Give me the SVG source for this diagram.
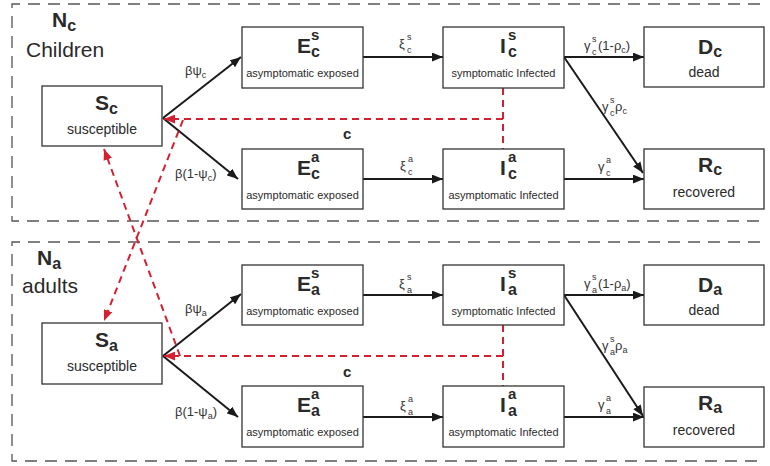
<svg xmlns="http://www.w3.org/2000/svg" width="770" height="466" viewBox="0 0 770 466">
<style>
text{font-family:"Liberation Sans",Arial,sans-serif;fill:#2a2a2a}
.box{fill:#fff;stroke:#333;stroke-width:1.3}
.grp{fill:none;stroke:#555;stroke-width:1.3;stroke-dasharray:12 8}
.t{font-size:21px;font-weight:bold}
.sb{font-size:16px;font-weight:bold}
.sp{font-size:15px;font-weight:bold}
.st{font-size:11px;text-anchor:middle}
.st2{font-size:14px;text-anchor:middle}
.lb{font-size:13px;fill:#333}
.ls{font-size:9px;fill:#333}
.ar{stroke:#1a1a1a;stroke-width:2;fill:none;marker-end:url(#ah)}
.rd{stroke:#d42030;stroke-width:2;fill:none;stroke-dasharray:7 5}
.rda{stroke:#d42030;stroke-width:2;fill:none;stroke-dasharray:7 5;marker-end:url(#rh)}
.gt{font-size:21px}
.c{font-size:15px;font-weight:bold}
</style>
<defs>
<marker id="ah" viewBox="0 0 10 8" refX="10" refY="4" markerWidth="11" markerHeight="9" markerUnits="userSpaceOnUse" orient="auto"><path d="M0,0 L10,4 L0,8 Z" fill="#1a1a1a"/></marker>
<marker id="rh" viewBox="0 0 10 8" refX="10" refY="4" markerWidth="11" markerHeight="9" markerUnits="userSpaceOnUse" orient="auto"><path d="M0,0 L10,4 L0,8 Z" fill="#d42030"/></marker>
</defs>

<g id="group-children">
<path class="grp" d="M760,4 H12 V221 H760"/>
<text x="52" y="27" class="t">N<tspan class="sb" dy="4">c</tspan></text>
<text x="26" y="57" class="gt">Children</text>
</g>
<g id="group-adults">
<path class="grp" d="M760,242 H12 V461 H760"/>
<text x="37" y="265" class="t">N<tspan class="sb" dy="4">a</tspan></text>
<text x="22" y="293" class="gt">adults</text>
</g>

<g id="connectors">
<path class="ar" d="M163,118 L241,57"/>
<path class="ar" d="M163,118 L238,179"/>
<path class="ar" d="M363,57 L443,57"/>
<path class="ar" d="M363,179 L443,179"/>
<path class="ar" d="M564,57 L644,57"/>
<path class="ar" d="M564,57 L643,173"/>
<path class="ar" d="M564,179 L644,179"/>
<path class="ar" d="M163,356 L241,294"/>
<path class="ar" d="M163,356 L238,417"/>
<path class="ar" d="M363,295 L443,295"/>
<path class="ar" d="M363,417 L443,417"/>
<path class="ar" d="M564,295 L644,295"/>
<path class="ar" d="M564,295 L643,416"/>
<path class="ar" d="M564,417 L644,417"/>
<path class="rd" d="M503,88 V149"/>
<path class="rda" d="M503,119 H164"/>
<path class="rda" d="M183,120 L104,321"/>
<path class="rd" d="M503,325 V386"/>
<path class="rda" d="M503,356 H164"/>
<path class="rda" d="M180,356 L104,149"/>
<text x="185" y="75" class="lb">βψ<tspan class="ls" dy="3">c</tspan></text>
<text x="175" y="178" class="lb">β(1-ψ<tspan class="ls" dy="3">c</tspan><tspan dy="-3">)</tspan></text>
<text x="399" y="48" class="lb">ξ</text><text x="407" y="40" class="ls">s</text><text x="407" y="53" class="ls">c</text>
<text x="400" y="170" class="lb">ξ</text><text x="408" y="162" class="ls">a</text><text x="408" y="175" class="ls">c</text>
<text x="584" y="50" class="lb">γ</text><text x="592" y="42" class="ls">s</text><text x="592" y="55" class="ls">c</text>
<text x="598" y="50" class="lb">(1-ρ<tspan class="ls" dy="3">c</tspan><tspan dy="-3">)</tspan></text>
<text x="602" y="111" class="lb">γ</text><text x="610" y="103" class="ls">s</text><text x="610" y="116" class="ls">c</text><text x="615" y="111" class="lb">ρ<tspan class="ls" dy="3">c</tspan></text>
<text x="598" y="171" class="lb">γ</text><text x="606" y="163" class="ls">a</text><text x="606" y="176" class="ls">c</text>
<text x="343" y="139" class="c">c</text>
<text x="185" y="313" class="lb">βψ<tspan class="ls" dy="3">a</tspan></text>
<text x="175" y="416" class="lb">β(1-ψ<tspan class="ls" dy="3">a</tspan><tspan dy="-3">)</tspan></text>
<text x="399" y="288" class="lb">ξ</text><text x="407" y="280" class="ls">s</text><text x="407" y="293" class="ls">a</text>
<text x="400" y="410" class="lb">ξ</text><text x="408" y="402" class="ls">a</text><text x="408" y="415" class="ls">a</text>
<text x="584" y="288" class="lb">γ</text><text x="592" y="280" class="ls">s</text><text x="592" y="293" class="ls">a</text>
<text x="598" y="288" class="lb">(1-ρ<tspan class="ls" dy="3">a</tspan><tspan dy="-3">)</tspan></text>
<text x="602" y="350" class="lb">γ</text><text x="610" y="342" class="ls">s</text><text x="610" y="355" class="ls">a</text><text x="615" y="350" class="lb">ρ<tspan class="ls" dy="3">a</tspan></text>
<text x="598" y="409" class="lb">γ</text><text x="606" y="401" class="ls">a</text><text x="606" y="414" class="ls">a</text>
<text x="343" y="377" class="c">c</text>
</g>

<g id="node-Sc"><rect class="box" x="42" y="86" width="120" height="60"/>
<text x="95" y="110" class="t">S<tspan class="sb" dy="4">c</tspan></text><text x="102" y="134" class="st2">susceptible</text></g>
<g id="node-Ecs"><rect class="box" x="242" y="27" width="121" height="61"/>
<text x="297" y="53" class="t">E</text><text x="311" y="40" class="sp">s</text><text x="311" y="57" class="sb">c</text><text x="302.5" y="77" class="st">asymptomatic exposed</text></g>
<g id="node-Ics"><rect class="box" x="443" y="27" width="121" height="61"/>
<text x="500" y="53" class="t">I</text><text x="508" y="40" class="sp">s</text><text x="508" y="57" class="sb">c</text><text x="503.5" y="77" class="st">symptomatic Infected</text></g>
<g id="node-Dc"><rect class="box" x="644" y="27" width="120" height="60"/>
<text x="698" y="54" class="t">D<tspan class="sb" dy="3">c</tspan></text><text x="704" y="77" class="st2">dead</text></g>
<g id="node-Eca"><rect class="box" x="242" y="149" width="121" height="60"/>
<text x="297" y="175" class="t">E</text><text x="311" y="162" class="sp">a</text><text x="311" y="179" class="sb">c</text><text x="302.5" y="199" class="st">asymptomatic exposed</text></g>
<g id="node-Ica"><rect class="box" x="443" y="149" width="121" height="60"/>
<text x="500" y="175" class="t">I</text><text x="508" y="162" class="sp">a</text><text x="508" y="179" class="sb">c</text><text x="503.5" y="199" class="st">asymptomatic Infected</text></g>
<g id="node-Rc"><rect class="box" x="644" y="149" width="120" height="60"/>
<text x="698" y="172" class="t">R<tspan class="sb" dy="3">c</tspan></text><text x="704" y="197" class="st2">recovered</text></g>

<g id="node-Sa"><rect class="box" x="42" y="323" width="120" height="61"/>
<text x="95" y="347" class="t">S<tspan class="sb" dy="4">a</tspan></text><text x="102" y="371" class="st2">susceptible</text></g>
<g id="node-Eas"><rect class="box" x="242" y="265" width="121" height="60"/>
<text x="297" y="291" class="t">E</text><text x="311" y="278" class="sp">s</text><text x="311" y="295" class="sb">a</text><text x="302.5" y="315" class="st">asymptomatic exposed</text></g>
<g id="node-Ias"><rect class="box" x="443" y="265" width="121" height="60"/>
<text x="500" y="291" class="t">I</text><text x="508" y="278" class="sp">s</text><text x="508" y="295" class="sb">a</text><text x="503.5" y="315" class="st">symptomatic Infected</text></g>
<g id="node-Da"><rect class="box" x="644" y="265" width="120" height="60"/>
<text x="698" y="292" class="t">D<tspan class="sb" dy="3">a</tspan></text><text x="704" y="315" class="st2">dead</text></g>
<g id="node-Eaa"><rect class="box" x="242" y="386" width="121" height="61"/>
<text x="297" y="412" class="t">E</text><text x="311" y="399" class="sp">a</text><text x="311" y="416" class="sb">a</text><text x="302.5" y="436" class="st">asymptomatic exposed</text></g>
<g id="node-Iaa"><rect class="box" x="443" y="386" width="121" height="61"/>
<text x="500" y="412" class="t">I</text><text x="508" y="399" class="sp">a</text><text x="508" y="416" class="sb">a</text><text x="503.5" y="436" class="st">asymptomatic Infected</text></g>
<g id="node-Ra"><rect class="box" x="644" y="387" width="120" height="60"/>
<text x="698" y="410" class="t">R<tspan class="sb" dy="3">a</tspan></text><text x="704" y="435" class="st2">recovered</text></g>
</svg>
